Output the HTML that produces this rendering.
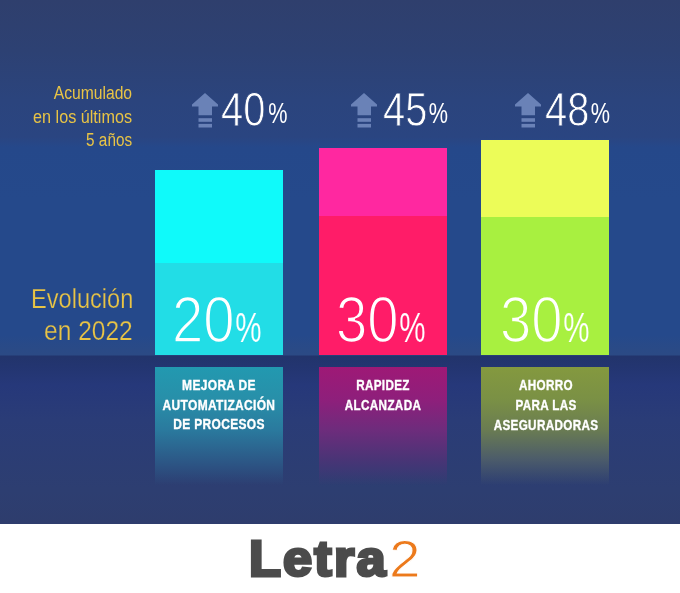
<!DOCTYPE html>
<html lang="es">
<head>
<meta charset="utf-8">
<title>Letra2</title>
<style>
html,body{margin:0;padding:0;}
body{width:680px;height:593px;position:relative;overflow:hidden;background:#fff;font-family:"Liberation Sans",sans-serif;}
.abs{position:absolute;}
#bg{left:0;top:0;width:680px;height:523.5px;background:linear-gradient(to bottom,#2f3f6d 0px,#2d4173 50px,#2b447d 100px,#2a4581 137px,#25488a 147px,#25498b 200px,#25498b 335px,#2a4a86 350px,#2b4a85 354.5px,#22346c 356.5px,#233570 366px,#26387a 385px,#2a3c77 420px,#2d3e71 490px,#2e3d6d 524px);}
.bar{width:128px;}
.lab{width:128px;top:367px;height:118px;}
.lab div{position:absolute;left:-36px;width:200px;top:9.2px;text-align:center;color:#fff;font-weight:bold;font-size:14px;line-height:19.6px;transform:scaleX(.855);letter-spacing:.4px;-webkit-text-stroke:.35px #fff;}
.num{color:#fff;white-space:nowrap;transform-origin:0 0;}
.big{font-size:64px;line-height:64px;-webkit-text-stroke:1.6px var(--bg);transform:scaleX(.88);}
.big span{font-size:42px;display:inline-block;transform:scaleX(.8);transform-origin:0 100%;-webkit-text-stroke:.15px var(--bg);margin-left:1px;}
.top{font-size:48px;line-height:48px;-webkit-text-stroke:.9px #2b447e;transform:scaleX(.83);}
.top span{font-size:30px;display:inline-block;transform:scaleX(.87);transform-origin:0 100%;-webkit-text-stroke:0;margin-left:1.5px;position:relative;top:-2.6px;}
.y{color:#e9c445;text-align:right;white-space:nowrap;transform-origin:100% 0;}
.a{right:547.5px;font-size:18px;line-height:23px;}
.e{right:547px;font-size:27.3px;line-height:32px;-webkit-text-stroke:.25px #25498b;}
.arrow{fill:#6a82b7;}
</style>
</head>
<body>
<div id="bg" class="abs"></div>

<!-- bars -->
<div class="abs bar" style="left:155px;top:170px;height:93px;background:#0ffafa"></div>
<div class="abs bar" style="left:155px;top:263px;height:92.2px;background:#22dde6"></div>
<div class="abs bar" style="left:319px;top:148px;height:68px;background:#ff28a0"></div>
<div class="abs bar" style="left:319px;top:216px;height:139.2px;background:#ff1c68"></div>
<div class="abs bar" style="left:481px;top:139.5px;height:77.5px;background:#ecfc58"></div>
<div class="abs bar" style="left:481px;top:217px;height:138.2px;background:#a8f040"></div>

<!-- label boxes -->
<div class="abs lab" style="left:155px;background:linear-gradient(to bottom,#2299b0 0%,#288fa9 28%,#2a7a9e 53%,#2c5a88 78%,rgba(44,62,115,0) 100%)"><div>MEJORA DE<br>AUTOMATIZACIÓN<br>DE PROCESOS</div></div>
<div class="abs lab" style="left:319px;background:linear-gradient(to bottom,#9e1976 0%,#8e1f7b 28%,#6e2c7c 53%,#4a3476 78%,rgba(44,62,115,0) 100%)"><div style="transform:scaleX(.835)">RAPIDEZ<br>ALCANZADA</div></div>
<div class="abs lab" style="left:481px;background:linear-gradient(to bottom,#84993f 0%,#7a9045 28%,#6a7c52 53%,#4c5c6a 78%,rgba(44,62,115,0) 100%)"><div style="left:-35px;transform:scaleX(.835);line-height:19.9px">AHORRO<br>PARA LAS<br>ASEGURADORAS</div></div>

<!-- yellow text -->
<div class="abs y a" style="top:82.2px;transform:scaleX(.87);">Acumulado</div>
<div class="abs y a" style="top:105.8px;transform:scaleX(.9);">en los últimos</div>
<div class="abs y a" style="top:128.8px;transform:scaleX(.85);">5 años</div>
<div class="abs y e" style="top:283.3px;transform:scaleX(.865);">Evolución</div>
<div class="abs y e" style="top:315.3px;transform:scaleX(.898);">en 2022</div>

<!-- arrows -->
<svg class="abs arrow" style="left:192px;top:92.5px" width="27" height="36" viewBox="0 0 27 36"><path d="M13 0 L26 11.4 L26 13.5 L20 13.5 L20 22.2 L6.5 22.2 L6.5 13.5 L0 13.5 L0 11.4 Z"/><rect x="6.5" y="25.2" width="13.5" height="3.6"/><rect x="6.5" y="30.9" width="13.5" height="3.6"/></svg>
<svg class="abs arrow" style="left:351.3px;top:92.5px" width="27" height="36" viewBox="0 0 27 36"><path d="M13 0 L26 11.4 L26 13.5 L20 13.5 L20 22.2 L6.5 22.2 L6.5 13.5 L0 13.5 L0 11.4 Z"/><rect x="6.5" y="25.2" width="13.5" height="3.6"/><rect x="6.5" y="30.9" width="13.5" height="3.6"/></svg>
<svg class="abs arrow" style="left:514.8px;top:92.5px" width="27" height="36" viewBox="0 0 27 36"><path d="M13 0 L26 11.4 L26 13.5 L20 13.5 L20 22.2 L6.5 22.2 L6.5 13.5 L0 13.5 L0 11.4 Z"/><rect x="6.5" y="25.2" width="13.5" height="3.6"/><rect x="6.5" y="30.9" width="13.5" height="3.6"/></svg>

<!-- numbers -->
<div class="abs num big" style="left:172.3px;top:288px;--bg:#22dde6;">20<span>%</span></div>
<div class="abs num big" style="left:335.5px;top:288px;--bg:#ff1c68;">30<span>%</span></div>
<div class="abs num big" style="left:499.5px;top:288px;--bg:#a8f040;">30<span>%</span></div>

<div class="abs num top" style="left:220.5px;top:86px;">40<span style="margin-left:3.7px">%</span></div>
<div class="abs num top" style="left:382.5px;top:86px;">45<span>%</span></div>
<div class="abs num top" style="left:544.5px;top:86px;">48<span>%</span></div>

<!-- logo -->
<div class="abs" id="logo" style="left:249px;top:532.8px;font-size:49.4px;line-height:52px;font-weight:bold;color:#4b4b4b;white-space:nowrap;transform:scaleX(1.06);transform-origin:0 0;-webkit-text-stroke:3px #4b4b4b;letter-spacing:2px;">Letra</div>
<div class="abs" id="two" style="left:388.5px;top:529.8px;font-size:51.5px;line-height:58px;color:#ec7a1c;-webkit-text-stroke:.9px #fff;transform:scaleX(1.1);transform-origin:0 0;">2</div>
</body>
</html>
